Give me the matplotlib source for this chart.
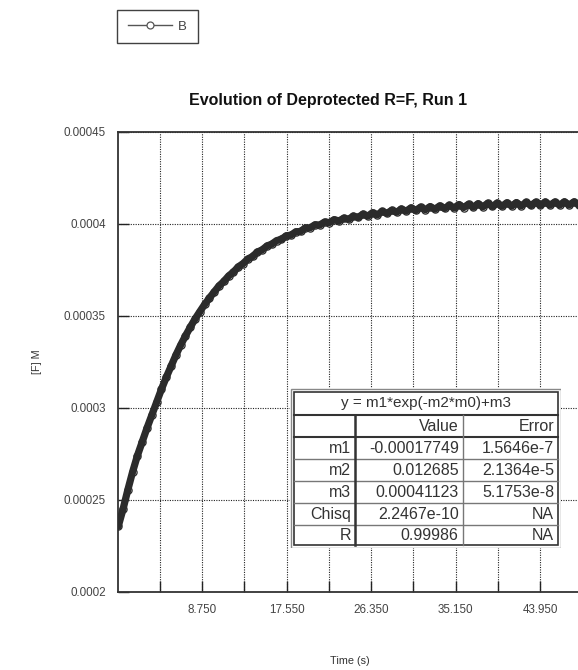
import numpy as np
import matplotlib
matplotlib.use('Agg')
import matplotlib.pyplot as plt
from matplotlib.lines import Line2D
from matplotlib.ticker import FixedLocator, FixedFormatter

plt.rcParams['font.family'] = ['Liberation Sans', 'DejaVu Sans']

# [F] concentration, units of 1e-4 M, every 0.5 s
conc_e4 = [2.355, 2.449, 2.554, 2.652, 2.740, 2.815, 2.890, 2.960, 3.030, 3.100,
           3.165, 3.225, 3.285, 3.340, 3.390, 3.437, 3.482, 3.522, 3.561, 3.596,
           3.629, 3.662, 3.686, 3.716, 3.737, 3.765, 3.783, 3.808, 3.822, 3.846,
           3.858, 3.879, 3.889, 3.908, 3.915, 3.934, 3.938, 3.956, 3.958, 3.977,
           3.978, 3.994, 3.993, 4.009, 4.006, 4.022, 4.015, 4.030, 4.024, 4.041,
           4.034, 4.052, 4.041, 4.060, 4.048, 4.067, 4.056, 4.073, 4.062, 4.080,
           4.068, 4.086, 4.072, 4.090, 4.076, 4.093, 4.079, 4.097, 4.083, 4.100,
           4.086, 4.104, 4.088, 4.106, 4.090, 4.109, 4.092, 4.111, 4.094, 4.112,
           4.095, 4.114, 4.096, 4.115, 4.097, 4.116, 4.099, 4.117, 4.100, 4.118,
           4.101, 4.118, 4.101, 4.119, 4.102, 4.119, 4.102]
sample_step = 0.5

x_major = [8.75, 17.55, 26.35, 35.15, 43.95]
x_major_labels = ['8.750', '17.550', '26.350', '35.150', '43.950']
x_minor = [4.35, 13.15, 21.95, 30.75, 39.55, 48.35]
y_ticks = [0.0002, 0.00025, 0.0003, 0.00035, 0.0004, 0.00045]
y_tick_labels = ['0.0002', '0.00025', '0.0003', '0.00035', '0.0004', '0.00045']

fit_title = 'y = m1*exp(-m2*m0)+m3'
fit_header = ['', 'Value', 'Error']
fit_names = ['m1', 'm2', 'm3', 'Chisq', 'R']
fit_values = ['-0.00017749', '0.012685', '0.00041123', '2.2467e-10', '0.99986']
fit_errors = ['1.5646e-7', '2.1364e-5', '5.1753e-8', 'NA', 'NA']

W, H = 578, 670
fig = plt.figure(figsize=(W / 100, H / 100), dpi=100)

# main axes, right side runs past the figure edge like the original
ax_left, ax_top, ax_bottom, ax_right = 118.25, 131.7, 591.7, 580
ax = fig.add_axes([ax_left / W, (H - ax_bottom) / H,
                   (ax_right - ax_left) / W, (ax_bottom - ax_top) / H])

time_s = np.arange(len(conc_e4)) * sample_step
conc = np.array(conc_e4) * 1e-4
# dense overlapping samples in the original read as one thick dark band
ax.plot(time_s, conc, '-', color='#2b2b2b', lw=5.2, solid_capstyle='round', zorder=3)
ax.plot(time_s, conc, 'o', ms=5.2, mfc='none', mec='#2b2b2b', mew=0.9, zorder=4)

ax.set_xlim(0, (ax_right - ax_left) / 9.596)
ax.set_ylim(0.0002, 0.00045)
ax.xaxis.set_major_locator(FixedLocator(x_major))
ax.xaxis.set_major_formatter(FixedFormatter(x_major_labels))
ax.xaxis.set_minor_locator(FixedLocator(x_minor))
ax.yaxis.set_major_locator(FixedLocator(y_ticks))
ax.yaxis.set_major_formatter(FixedFormatter(y_tick_labels))

ax.tick_params(which='both', direction='in', length=8, width=1, color='#222',
               labelsize=8.4, labelcolor='#444', top=False, right=False)
ax.tick_params(axis='x', pad=9)
ax.tick_params(axis='y', pad=9)
ax.grid(True, which='both', color='#222', lw=0.8, ls=(0, (1, 1.2)))
ax.set_axisbelow(True)
for s in ax.spines.values():
    s.set_color('#333')
    s.set_linewidth(1.3)

fig.text(328 / W, 1 - 101 / H, 'Evolution of Deprotected R=F, Run 1',
         ha='center', va='center', fontsize=11.5, fontweight='bold', color='#111')
fig.text(350 / W, 1 - 661 / H, 'Time (s)', ha='center', va='center',
         fontsize=7.8, color='#333')
fig.text(37 / W, 1 - 362 / H, '[F] M', ha='center', va='center',
         rotation=90, fontsize=7.8, color='#333')

# legend
handle = Line2D([], [], color='#555', lw=1, marker='o', ms=5, mfc='white',
                mec='#555', mew=0.9)
leg = fig.legend([handle], ['B'], loc='upper left',
                 bbox_to_anchor=(117 / W, 1 - 10 / H), fontsize=9.5,
                 frameon=True, fancybox=False, handlelength=3.4,
                 borderpad=0.8, handletextpad=0.45, borderaxespad=0)
leg.get_frame().set_edgecolor('#111')
leg.get_frame().set_linewidth(1)
for t in leg.get_texts():
    t.set_color('#444')

# fit results table
tx0, ty0, tw, th = 290, 388, 271, 160
tax = fig.add_axes([tx0 / W, (H - ty0 - th) / H, tw / W, th / H])
tax.set_xlim(0, tw)
tax.set_ylim(th, 0)
tax.axis('off')
tax.add_patch(plt.Rectangle((0, 0), tw, th, facecolor='white', edgecolor='none'))
tax.add_patch(plt.Rectangle((0.5, 0.5), tw - 1, th - 1, fill=False,
                            edgecolor='#888', lw=1))
tax.add_patch(plt.Rectangle((3.5, 3.5), tw - 7, th - 7, fill=False,
                            edgecolor='#333', lw=1.2))

row_lines = [27, 48.7, 71, 92.7, 114.7, 136.7]
col_lines = [65, 172.7]
for i, y in enumerate(row_lines):
    tax.plot([3.5, tw - 3.5], [y, y], color='#333' if i < 2 else '#777',
             lw=1.5 if i < 2 else 1)
tax.plot([col_lines[0]] * 2, [row_lines[0], th - 3.5], color='#333', lw=1.8)
tax.plot([col_lines[1]] * 2, [row_lines[0], th - 3.5], color='#777', lw=1)

fs = 11.5
tax.text(tw / 2, 14.5, fit_title, ha='center', va='center', fontsize=11, color='#333')
row_mid = [(a + b) / 2 for a, b in zip(row_lines, row_lines[1:] + [th - 3.5])]
col_right = [col_lines[0] - 4, col_lines[1] - 4, tw - 7]
for j, h in enumerate(fit_header):
    tax.text(col_right[j], row_mid[0] + 0.5, h, ha='right', va='center',
             fontsize=fs, color='#333')
for i in range(len(fit_names)):
    y = row_mid[i + 1] + 0.5
    tax.text(col_right[0], y, fit_names[i], ha='right', va='center', fontsize=fs, color='#333')
    tax.text(col_right[1], y, fit_values[i], ha='right', va='center', fontsize=fs, color='#333')
    tax.text(col_right[2], y, fit_errors[i], ha='right', va='center', fontsize=fs, color='#333')

fig.savefig('out.png', dpi=100)
